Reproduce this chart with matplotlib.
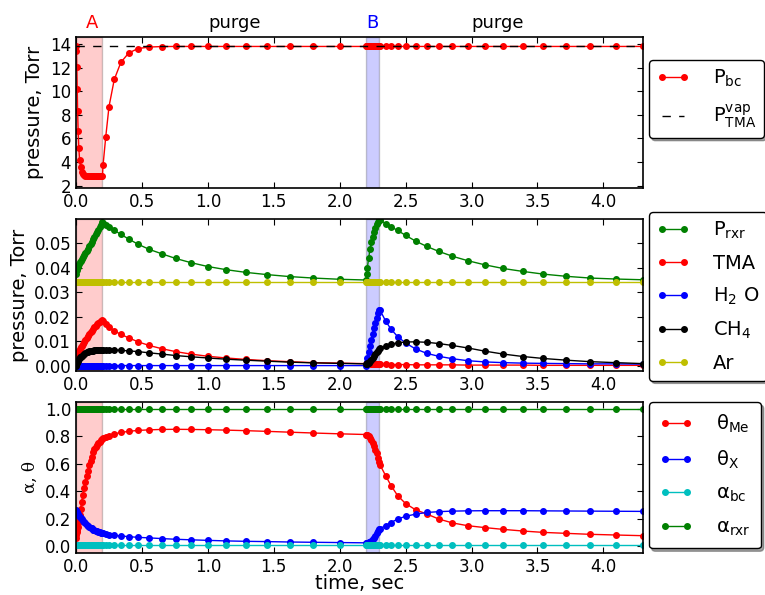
import matplotlib
matplotlib.use('Agg')
import matplotlib.pyplot as plt
from matplotlib.ticker import FormatStrFormatter, MultipleLocator

# time grid: pulse A | purge | pulse B | purge
time = [0.0, 0.003, 0.006, 0.009, 0.012, 0.016, 0.021, 0.027, 0.034, 0.042, 0.05, 0.06, 0.07,
        0.08, 0.09, 0.10, 0.11, 0.12, 0.13, 0.14, 0.15, 0.16, 0.17, 0.18, 0.19, 0.20,
        0.205, 0.225, 0.25, 0.29, 0.34, 0.40, 0.47, 0.555, 0.65, 0.755, 0.87, 1.0, 1.14,
        1.29, 1.45, 1.62, 1.80, 2.0, 2.2,
        2.205, 2.21, 2.22, 2.23, 2.24, 2.25, 2.26, 2.27, 2.28, 2.29, 2.30,
        2.307, 2.35, 2.39, 2.44, 2.50, 2.575, 2.66, 2.75, 2.855, 2.97, 3.10, 3.24, 3.39,
        3.545, 3.72, 3.90, 4.095, 4.30]

p_bc = [13.8, 13.4, 12.1, 10.2, 8.3, 6.6, 5.2, 4.2, 3.6, 3.2, 3.0, 2.9, 2.86,
        2.84, 2.83, 2.82, 2.82, 2.82, 2.82, 2.82, 2.82, 2.82, 2.82, 2.82, 2.82, 2.82,
        3.75, 6.1, 8.7, 11.0, 12.45, 13.25, 13.62, 13.75, 13.79, 13.8, 13.8, 13.8, 13.8,
        13.8, 13.8, 13.8, 13.8, 13.8, 13.8,
        13.8, 13.8, 13.8, 13.8, 13.8, 13.8, 13.8, 13.8, 13.8, 13.8, 13.8,
        13.8, 13.8, 13.8, 13.8, 13.8, 13.8, 13.8, 13.8, 13.8, 13.8, 13.8, 13.8, 13.8,
        13.8, 13.8, 13.8, 13.8, 13.8]
p_vap = 13.85

p_rxr = [0.0340, 0.0372, 0.0388, 0.0397, 0.0403, 0.0409, 0.0415, 0.0421, 0.0427, 0.0434, 0.0441, 0.0449, 0.0458,
         0.0467, 0.0476, 0.0486, 0.0495, 0.0505, 0.0515, 0.0525, 0.0535, 0.0545, 0.0555, 0.0565, 0.0575, 0.0585,
         0.0583, 0.0574, 0.0565, 0.0552, 0.0535, 0.0516, 0.0495, 0.0474, 0.0456, 0.0437, 0.0420, 0.0404, 0.0391,
         0.0380, 0.0371, 0.0363, 0.0357, 0.0352, 0.0349,
         0.0375, 0.0400, 0.0440, 0.0475, 0.0502, 0.0526, 0.0546, 0.0562, 0.0576, 0.0587, 0.0596,
         0.0595, 0.0578, 0.0566, 0.0551, 0.0531, 0.0508, 0.0486, 0.0466, 0.0446, 0.0428, 0.0411, 0.0396, 0.0384,
         0.0373, 0.0364, 0.0357, 0.0353, 0.0350]

tma = [0.0, 0.0025, 0.0035, 0.0042, 0.0048, 0.0054, 0.0060, 0.0067, 0.0074, 0.0081, 0.0088, 0.0095, 0.0104,
       0.0112, 0.0120, 0.0128, 0.0135, 0.0142, 0.0149, 0.0156, 0.0162, 0.0168, 0.0174, 0.0179, 0.0183, 0.0186,
       0.0182, 0.0169, 0.0157, 0.0142, 0.0127, 0.0113, 0.0097, 0.0082, 0.0069, 0.0057, 0.0047, 0.0038, 0.0031,
       0.0025, 0.0020, 0.0016, 0.0012, 0.0010, 0.0008,
       0.0007, 0.0006, 0.0005, 0.0005, 0.0005, 0.0005, 0.0005, 0.0005, 0.0005, 0.0005, 0.0005,
       0.0005, 0.0005, 0.0004, 0.0004, 0.0004, 0.0003, 0.0003, 0.0003, 0.0003, 0.0002, 0.0002, 0.0002, 0.0002,
       0.0001, 0.0001, 0.0001, 0.0001, 0.0001]

h2o = [0.0, 0.0, 0.0, 0.0, 0.0, 0.0, 0.0, 0.0, 0.0, 0.0, 0.0, 0.0, 0.0,
       0.0, 0.0, 0.0, 0.0, 0.0, 0.0, 0.0, 0.0, 0.0, 0.0, 0.0, 0.0, 0.0,
       0.0, 0.0, 0.0, 0.0, 0.0, 0.0, 0.0, 0.0, 0.0, 0.0, 0.0, 0.0, 0.0,
       0.0, 0.0, 0.0, 0.0, 0.0, 0.0,
       0.0015, 0.0030, 0.0055, 0.0080, 0.0105, 0.0130, 0.0153, 0.0175, 0.0195, 0.0213, 0.0228,
       0.0225, 0.0180, 0.0148, 0.0118, 0.0092, 0.0068, 0.0050, 0.0038, 0.0028, 0.0020, 0.0015, 0.0012, 0.0010,
       0.0009, 0.0008, 0.0007, 0.0007, 0.0006]

ch4 = [0.0, 0.0006, 0.0011, 0.0015, 0.0019, 0.0023, 0.0028, 0.0033, 0.0037, 0.0041, 0.0044, 0.0048, 0.0051,
       0.0054, 0.0056, 0.0058, 0.0059, 0.0060, 0.0061, 0.0062, 0.0063, 0.0064, 0.0064, 0.0065, 0.0065, 0.0065,
       0.0065, 0.0065, 0.0065, 0.0064, 0.0062, 0.0060, 0.0057, 0.0052, 0.0047, 0.0041, 0.0036, 0.0031, 0.0026,
       0.0022, 0.0018, 0.0014, 0.0011, 0.0009, 0.0007,
       0.0008, 0.0009, 0.0012, 0.0017, 0.0023, 0.0030, 0.0038, 0.0046, 0.0054, 0.0061, 0.0067,
       0.0070, 0.0080, 0.0087, 0.0093, 0.0096, 0.0097, 0.0095, 0.0090, 0.0082, 0.0072, 0.0059, 0.0047, 0.0037,
       0.0029, 0.0022, 0.0016, 0.0012, 0.0008]

ar = [0.0339] * len(time)

theta_me = [0.06, 0.08, 0.10, 0.12, 0.14, 0.165, 0.20, 0.23, 0.27, 0.32, 0.37, 0.42, 0.47,
            0.51, 0.55, 0.59, 0.62, 0.65, 0.685, 0.705, 0.72, 0.735, 0.75, 0.76, 0.77, 0.78,
            0.785, 0.793, 0.805, 0.818, 0.828, 0.836, 0.843, 0.847, 0.850, 0.851, 0.850, 0.848, 0.845,
            0.841, 0.836, 0.830, 0.824, 0.818, 0.813,
            0.812, 0.810, 0.800, 0.787, 0.772, 0.752, 0.728, 0.702, 0.675, 0.645, 0.615,
            0.590, 0.510, 0.440, 0.367, 0.310, 0.265, 0.234, 0.198, 0.169, 0.149, 0.135, 0.122, 0.110,
            0.100, 0.093, 0.086, 0.081, 0.076]

theta_x = [0.265, 0.257, 0.250, 0.243, 0.237, 0.230, 0.222, 0.214, 0.205, 0.195, 0.186, 0.177, 0.168,
           0.157, 0.150, 0.142, 0.135, 0.129, 0.121, 0.117, 0.113, 0.108, 0.105, 0.101, 0.098, 0.095,
           0.093, 0.089, 0.084, 0.079, 0.074, 0.069, 0.064, 0.060, 0.055, 0.050, 0.046, 0.042, 0.038,
           0.035, 0.033, 0.030, 0.028, 0.026, 0.024,
           0.024, 0.025, 0.028, 0.033, 0.040, 0.050, 0.062, 0.076, 0.092, 0.108, 0.125,
           0.128, 0.150, 0.172, 0.198, 0.217, 0.233, 0.245, 0.251, 0.255, 0.257, 0.258, 0.258, 0.258,
           0.257, 0.256, 0.255, 0.254, 0.253]

alpha_bc = [0.005] * len(time)
alpha_rxr = [1.0] * len(time)

pulse_a = (0.0, 0.2)
pulse_b = (2.2, 2.3)

plt.rcParams.update({
    'font.size': 12,
    'mathtext.default': 'regular',
    'xtick.direction': 'in', 'ytick.direction': 'in',
    'xtick.top': True, 'ytick.right': True,
    'xtick.major.size': 4, 'ytick.major.size': 4,
    'axes.linewidth': 1.2,
    'lines.dashed_pattern': [6, 6],
    'legend.fancybox': True, 'legend.shadow': True,
    'legend.edgecolor': 'black', 'legend.framealpha': 1,
})

fig = plt.figure(figsize=(7.65, 5.95), dpi=100)
ax1 = fig.add_axes([0.0994, 0.684, 0.741, 0.2538])
ax2 = fig.add_axes([0.0994, 0.3765, 0.741, 0.2555])
ax3 = fig.add_axes([0.0994, 0.0706, 0.741, 0.2538])

mk = dict(marker='o', ms=4, lw=1)

ax1.plot(time, p_bc, color='r', mec='r', label=r'P$_{bc}$', **mk)
ax1.axhline(p_vap, color='k', ls='--', lw=1, label=r'P$_{TMA}^{vap}$')

ax2.plot(time, p_rxr, color='g', mec='g', label=r'P$_{rxr}$', **mk)
ax2.plot(time, tma, color='r', mec='r', label='TMA', **mk)
ax2.plot(time, h2o, color='b', mec='b', label=r'H$_2$ O', **mk)
ax2.plot(time, ch4, color='k', mec='k', label=r'CH$_4$', **mk)
ax2.plot(time, ar, color='y', mec='y', label='Ar', **mk)

ax3.plot(time, theta_me, color='r', mec='r', label=r'$\theta_{Me}$', **mk)
ax3.plot(time, theta_x, color='b', mec='b', label=r'$\theta_X$', **mk)
ax3.plot(time, alpha_bc, color='c', mec='c', label=r'$\alpha_{bc}$', **mk)
ax3.plot(time, alpha_rxr, color='g', mec='g', label=r'$\alpha_{rxr}$', **mk)

for ax in (ax1, ax2, ax3):
    ax.axvspan(*pulse_a, facecolor='r', edgecolor='k', alpha=0.2, lw=1)
    ax.axvspan(*pulse_b, facecolor='b', edgecolor='k', alpha=0.2, lw=1)
    ax.set_xlim(0, 4.3)
    ax.xaxis.set_major_locator(MultipleLocator(0.5))
    ax.xaxis.set_major_formatter(FormatStrFormatter('%.1f'))

ax1.set_ylim(1.8, 14.6)
ax1.yaxis.set_major_locator(MultipleLocator(2))
ax1.set_ylabel('pressure, Torr', fontsize=14)

ax2.set_ylim(-0.0022, 0.0598)
ax2.yaxis.set_major_locator(MultipleLocator(0.01))
ax2.yaxis.set_major_formatter(FormatStrFormatter('%.2f'))
ax2.set_ylabel('pressure, Torr', fontsize=14)

ax3.set_ylim(-0.05, 1.05)
ax3.yaxis.set_major_locator(MultipleLocator(0.2))
ax3.yaxis.set_major_formatter(FormatStrFormatter('%.1f'))
ax3.set_ylabel('α, θ', family='DejaVu Serif', fontsize=12)
ax3.set_xlabel('time, sec', fontsize=14, labelpad=-1)

# phase labels above the top panel
tr = ax1.get_xaxis_transform()
ax1.text(0.12, 1.06, 'A', color='r', ha='center', va='baseline', fontsize=13, transform=tr)
ax1.text(1.2, 1.06, 'purge', ha='center', va='baseline', fontsize=13, transform=tr)
ax1.text(2.25, 1.06, 'B', color='b', ha='center', va='baseline', fontsize=13, transform=tr)
ax1.text(3.2, 1.06, 'purge', ha='center', va='baseline', fontsize=13, transform=tr)

leg_kw = dict(loc='upper left', bbox_transform=fig.transFigure, borderaxespad=0,
              numpoints=2, fontsize=14, handlelength=1.7, handletextpad=1.2)
ax1.legend(bbox_to_anchor=(0.848, 0.899), labelspacing=0.7, **leg_kw)
ax2.legend(bbox_to_anchor=(0.848, 0.644), labelspacing=0.66, **leg_kw)
ax3.legend(bbox_to_anchor=(0.848, 0.324), labelspacing=0.68, borderpad=0.55, **leg_kw)

fig.savefig('out.png', dpi=100)
